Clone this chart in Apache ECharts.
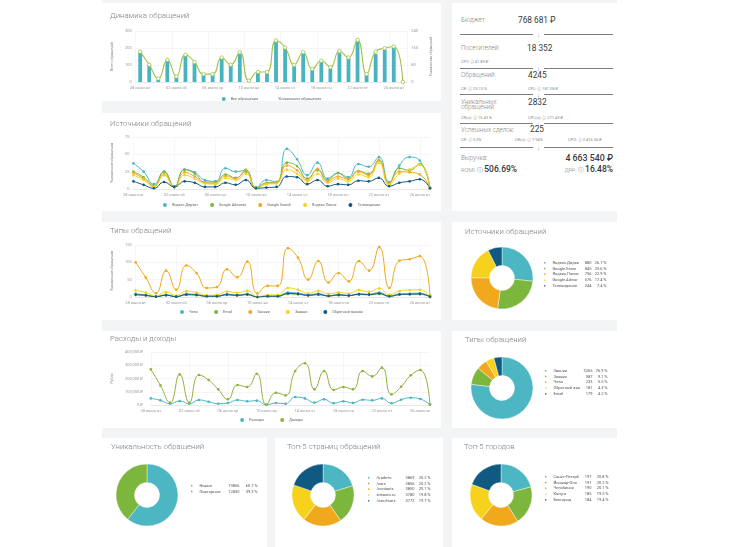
<!DOCTYPE html>
<html><head><meta charset="utf-8">
<script src="https://cdn.jsdelivr.net/npm/echarts@6/dist/echarts.min.js"></script>
<style>
html,body{margin:0;padding:0;background:#fff;}
body{width:730px;height:547px;position:relative;overflow:hidden;font-family:Roboto,"Noto Sans",sans-serif;}
#bg{position:absolute;left:102px;top:0;width:515px;height:547px;background:#f2f4f6;}
.panel{position:absolute;background:#fff;}
.t{position:absolute;white-space:nowrap;line-height:1;transform:translateY(-50%);}
.lab{color:#858585;font-size:6.3px;font-weight:300;}
.val{color:#3a3a3a;font-size:8.3px;}
.sm{color:#8a8a8a;font-size:4px;}
.div{position:absolute;height:1px;background:#7d7d7d;}
.arr{position:absolute;color:#8cb6c4;font-size:7px;line-height:1;transform:translate(-50%,-50%);}
</style></head><body>
<div id="bg"></div>
<div class="panel" id="p1" style="left:102px;top:3px;width:339px;height:98px"></div>
<div class="panel" id="kpi" style="left:452px;top:3px;width:165px;height:208px"></div>
<div class="panel" id="p2" style="left:102px;top:113px;width:339px;height:98px"></div>
<div class="panel" id="p3" style="left:102px;top:222px;width:339px;height:98px"></div>
<div class="panel" id="q1" style="left:452px;top:222px;width:165px;height:98px"></div>
<div class="panel" id="p4" style="left:102px;top:331px;width:339px;height:97px"></div>
<div class="panel" id="q2" style="left:452px;top:331px;width:165px;height:97px"></div>
<div class="panel" id="b1" style="left:102px;top:438px;width:165px;height:109px"></div>
<div class="panel" id="b2" style="left:275px;top:438px;width:168px;height:109px"></div>
<div class="panel" id="b3" style="left:452px;top:438px;width:165px;height:109px"></div>
<script>
// ---------- DATA ----------
const dates = ['28 июня вт','29 июня ср','30 июня чт','01 июля пт','02 июля сб','03 июля вс','04 июля пн','05 июля вт','06 июля ср','07 июля чт','08 июля пт','09 июля сб','10 июля вс','11 июля пн','12 июля вт','13 июля ср','14 июля чт','15 июля пт','16 июля сб','17 июля вс','18 июля пн','19 июля вт','20 июля ср','21 июля чт','22 июля пт','23 июля сб','24 июля вс','25 июля пн','26 июля вт','27 июля ср'];

const allCalls    = [170,101,14,125,27,160,111,43,47,140,101,164,8,53,49,242,199,92,170,72,117,78,170,140,238,43,164,189,203,0];
const uniqueCalls = [143,81,16,104,26,128,94,37,37,115,81,140,6,47,47,195,162,81,140,61,100,70,146,115,198,37,143,159,167,0];

const srcDirect  = [37,25,7,25,4,28,24,13,11,30,25,27,2,13,10,58,43,20,38,15,23,17,36,32,46,10,34,46,41,1];
const srcAdwords = [25,17,5,25,3,28,22,10,10,21,16,25,2,9,10,38,33,15,27,13,23,15,26,22,42,8,30,27,36,2];
const srcSearch  = [23,15,4,22,3,24,18,9,8,19,15,28,1,8,9,34,27,13,29,11,18,14,25,20,41,8,25,24,21,1];
const srcPoisk   = [20,13,3,20,2,20,15,8,7,16,13,22,1,7,8,28,22,11,22,9,15,11,21,17,38,6,22,28,35,1];
const srcTV      = [11,6,1,10,3,11,9,3,3,9,6,13,1,2,3,18,17,7,13,4,7,6,12,11,16,4,9,11,14,1];

const typeChats    = [9,6,1,7,1,9,7,3,3,8,6,9,0,3,3,13,11,6,10,4,7,5,9,8,13,3,9,10,11,0];
const typeEmail    = [6,4,1,5,1,6,5,2,2,6,4,7,0,2,2,9,8,4,7,3,5,4,7,6,9,2,7,8,8,0];
const typeCalls    = [100,56,11,76,21,91,69,26,29,80,57,102,10,32,32,141,113,50,104,42,69,45,104,76,144,26,105,109,118,4];
const typeRequests = [19,13,3,15,4,17,13,5,6,16,12,18,1,6,6,26,21,10,18,9,13,10,20,15,25,6,17,20,21,1];
const typeCallback = [7,5,1,5,1,7,6,2,2,7,5,7,0,2,2,10,9,5,7,3,6,4,8,7,10,2,7,8,9,1];

const expenses = [50000,35000,10000,30000,10000,38000,25000,10000,15000,38000,28000,33000,2000,15000,10000,60000,50000,18000,43000,13000,28000,15000,40000,35000,50000,13000,40000,55000,45000,3000];
const income   = [269000,148000,18000,231000,18000,226000,189000,118000,43000,151000,136000,236000,3000,93000,73000,257000,315000,118000,257000,113000,136000,118000,257000,216000,282000,80000,138000,224000,264000,5000];

const srcPieNames  = ['Яндекс.Директ','Google.Search','Яндекс.Поиск','Google.Adwords','Телевидение'];
const srcPieValues = [880,845,756,576,244];
const typePieNames  = ['Звонки','Заявки','Чаты','Обратный звонок','Email'];
const typePieValues = [3265,387,233,181,179];
const uniqNames  = ['Новые','Повторные'];
const uniqValues = [19856,12830];
const pageNames  = ['/trade-in','/cars','/contacts','siteauto.ru','/used-cars'];
const pageValues = [3869,3856,3850,3780,3772];
const cityNames  = ['Санкт-Петербург','Йошкар-Ола','Челябинск','Калуга','Белгород'];
const cityValues = [197,191,190,185,184];

const yTicks1L = [0,100,200,300];
const yTicks1R = [0,80,160,240];

// ---------- STYLE ----------
const PAL = ['#4cb7c3','#7db63c','#f0a81c','#f6d21c','#105a82'];
const OLIVE = '#a2c149';
const FONT = 'Roboto, "Noto Sans", sans-serif';
const axisTxt = {color:'#9a9a9a', fontSize:4, fontFamily:FONT};

function title(text, left, top){
  return {text, left, top, padding:0, textStyle:{fontSize:7.8, color:'#808080', fontWeight:300, fontFamily:FONT}};
}
function xAxis(boundary){
  return {type:'category', data:dates, boundaryGap:boundary,
    axisLine:{lineStyle:{color:'#ddd', width:0.6}}, axisTick:{show:false},
    axisLabel:Object.assign({interval:3, margin:4}, axisTxt),
    splitLine:{show:true, interval:3, lineStyle:{color:'#f1f1f1', width:0.6}}};
}
function yAxis(min,max,interval,name,extra){
  return Object.assign({type:'value', min, max, interval, name, nameLocation:'middle', nameGap:13,
    nameTextStyle:{fontSize:3.5, color:'#777', fontFamily:FONT},
    axisLine:{show:false}, axisTick:{show:false},
    axisLabel:Object.assign({margin:4}, axisTxt),
    splitLine:{lineStyle:{color:'#eeeeee', width:0.6}}}, extra||{});
}
function lineLegend(top){
  return {top, left:'center', padding:0, itemWidth:4, itemHeight:4, itemGap:12, icon:'circle',
    textStyle:{fontSize:3.7, color:'#666', fontFamily:FONT}};
}
function lineSeries(name, data, color){
  return {type:'line', name, data, smooth:true, symbol:'circle', symbolSize:2.6,
    lineStyle:{width:1, color}, itemStyle:{color}};
}

// Panel 1
echarts.init(document.getElementById('p1')).setOption({
  animation:false,
  title:title('Динамика обращений',8,9),
  grid:{left:28,right:33,top:28,height:51},
  legend:{top:93, left:'center', padding:0, itemWidth:4, itemHeight:4, itemGap:10, textStyle:{fontSize:3.8,color:'#666',fontFamily:FONT},
    data:[{name:'Все обращения',icon:'circle'},{name:'Уникальные обращения',icon:'emptyCircle'}]},
  xAxis:xAxis(true),
  yAxis:[yAxis(yTicks1L[0],yTicks1L[3],yTicks1L[1],'Всего обращений',{nameGap:12}),
         yAxis(yTicks1R[0],yTicks1R[3],yTicks1R[1],'Уникальных обращений',{position:'right',nameGap:12,splitLine:{show:false}})],
  series:[
    {type:'bar', name:'Все обращения', data:allCalls, barWidth:'42%', itemStyle:{color:'#48b4c0'}},
    {type:'line', name:'Уникальные обращения', data:uniqueCalls, yAxisIndex:1, smooth:true, symbol:'circle', symbolSize:3.5,
      lineStyle:{width:1.1,color:OLIVE}, itemStyle:{color:'#fff', borderColor:OLIVE, borderWidth:0.8}}
  ]
});

// Panel 2
echarts.init(document.getElementById('p2')).setOption({
  animation:false, color:PAL,
  title:title('Источники обращений',8,7),
  grid:{left:28,right:11,top:24,height:52},
  legend:lineLegend(90),
  xAxis:xAxis(false),
  yAxis:yAxis(0,75,25,'Уникальные обращения'),
  series:[lineSeries('Яндекс.Директ',srcDirect,PAL[0]),lineSeries('Google Adwords',srcAdwords,PAL[1]),
    lineSeries('Google Search',srcSearch,PAL[2]),lineSeries('Яндекс.Поиск',srcPoisk,PAL[3]),lineSeries('Телевидение',srcTV,PAL[4])]
});

// Panel 3
echarts.init(document.getElementById('p3')).setOption({
  animation:false, color:PAL,
  title:title('Типы обращений',8,5),
  grid:{left:28,right:11,top:23,height:52},
  legend:Object.assign(lineLegend(88),{itemGap:16}),
  xAxis:xAxis(false),
  yAxis:yAxis(0,150,50,'Уникальные обращения'),
  series:[lineSeries('Чаты',typeChats,PAL[0]),lineSeries('Email',typeEmail,PAL[1]),
    lineSeries('Звонки',typeCalls,PAL[2]),lineSeries('Заявки',typeRequests,PAL[3]),lineSeries('Обратный звонок',typeCallback,PAL[4])]
});

// Panel 4
echarts.init(document.getElementById('p4')).setOption({
  animation:false,
  title:title('Расходы и доходы',8,4),
  grid:{left:41,right:11,top:21,height:53},
  legend:Object.assign(lineLegend(87),{itemGap:16}),
  xAxis:xAxis(false),
  yAxis:yAxis(0,400000,100000,'Рубли',{nameGap:27,axisLabel:Object.assign({margin:8,formatter:'{value} ₽'},axisTxt)}),
  series:[lineSeries('Расходы',expenses,'#4cb7c3'),lineSeries('Доходы',income,'#8fb23c')]
});

// Pies
function pieChart(id, ttl, names, values, c, tl, tt, legendLeft, legendTop, widths){
  const total = values.reduce((a,b)=>a+b,0);
  const map = {};
  names.forEach((n,i)=>map[n]=values[i]);
  echarts.init(document.getElementById(id)).setOption({
    animation:false, color:PAL,
    title:title(ttl, tl, tt),
    legend:{orient:'vertical', left:legendLeft, top:legendTop, padding:0, icon:'rect', itemWidth:3.4, itemHeight:3.4, itemGap:0.4,
      textStyle:{fontSize:4, lineHeight:4.2, color:'#555', fontFamily:FONT, padding:[0,0,0,1],
        rich:{n:{width:widths[0],fontSize:4,lineHeight:4.2},v:{width:widths[1],align:'right',fontSize:4,lineHeight:4.2},p:{width:widths[2],align:'right',fontSize:4,lineHeight:4.2}}},
      formatter:function(n){return '{n|'+n.slice(0,12)+'}{v|'+map[n]+'}{p|'+(map[n]/total*100).toFixed(1)+' %}';}},
    series:[{type:'pie', center:c, radius:[12.5,31], startAngle:90, clockwise:true, label:{show:false}, labelLine:{show:false},
      itemStyle:{borderColor:'#fff', borderWidth:0.4},
      data:names.map((n,i)=>({name:n, value:values[i]}))}]
  });
}
pieChart('q1','Источники обращений',srcPieNames,srcPieValues,[50,56],13,6,90,38,[29,10,15]);
pieChart('q2','Типы обращений',typePieNames,typePieValues,[50,57],13,5,91,37,[29,10,15]);
pieChart('b1','Уникальность обращений',uniqNames,uniqValues,[45,57],9,5,87,45,[28,12,18]);
pieChart('b2','Топ-5 страниц обращений',pageNames,pageValues,[48,57],12,5,91,37,[28,10,16]);
pieChart('b3','Топ-5 городов',cityNames,cityValues,[49,57],12,5,91,36,[28,10,17]);

// KPI panel
const kpi = document.getElementById('kpi');
const KT = 3;
function t(txt, x, y, cls, extra){
  const s = document.createElement('span');
  s.className = 't ' + cls; s.textContent = txt;
  s.style.left = (x-452)+'px'; s.style.top = (y-KT)+'px';
  if (extra) Object.assign(s.style, extra);
  kpi.appendChild(s); return s;
}
function tr(txt, xr, y, cls, extra){
  const s = t(txt, 0, y, cls, extra); s.style.left=''; s.style.right=(617-xr)+'px'; return s;
}
function divider(y){
  const a = document.createElement('div'); a.className='div';
  a.style.left=(460-452)+'px'; a.style.width='73px'; a.style.top=(y-KT)+'px'; kpi.appendChild(a);
  const b = document.createElement('div'); b.className='div';
  b.style.left=(544-452)+'px'; b.style.width='69px'; b.style.top=(y-KT)+'px'; kpi.appendChild(b);
  const c = document.createElement('span'); c.className='arr'; c.textContent='↓';
  c.style.left=(538.5-452)+'px'; c.style.top=(y-KT+0.5)+'px'; kpi.appendChild(c);
}
t('Бюджет:',461,20,'lab'); t('768 681 ₽',518,20,'val');
divider(34);
t('Посетителей:',461,48,'lab'); t('18 352',527,48,'val');
t('CPV  ⓘ  41.89 ₽',461,62,'sm');
divider(68);
t('Обращений:',461,75,'lab'); t('4245',528,75,'val');
t('CR:  ⓘ  23.13 %',461,89,'sm'); t('CPL:  ⓘ  181.08 ₽',528,89,'sm');
divider(94);
t('Уникальных',461,101.5,'lab'); t('обращений:',461,107,'lab'); t('2832',528,102,'val');
t('CR(u):  ⓘ  15.43 %',461,118,'sm'); t('CPL(u):  ⓘ  271.43 ₽',528,118,'sm');
divider(123);
t('Успешных сделок:',461,129.5,'lab'); t('225',530,129,'val');
t('CR:  ⓘ  5.3%',461,140,'sm'); t('CR(u):  ⓘ  7.94%',515,140,'sm'); t('CPO:  ⓘ  3 416.36 ₽',568,140,'sm');
divider(147);
t('Выручка:',461,158,'lab'); tr('4 663 540 ₽',613,158,'val',{fontWeight:'500',fontSize:'8.8px'});
const r1 = t('ROMI:  ⓘ ',461,168.5,'lab',{fontSize:'5.5px'});
const rv = document.createElement('span'); rv.textContent='506.69%'; rv.style.fontSize='8.5px'; rv.style.color='#333'; rv.style.fontWeight='500'; r1.appendChild(rv);
const r2 = tr('ДРР:  ⓘ ',613,168.5,'lab',{fontSize:'5.5px'});
const dv = document.createElement('span'); dv.textContent='16.48%'; dv.style.fontSize='8.5px'; dv.style.color='#333'; dv.style.fontWeight='500'; r2.appendChild(dv);
</script>
</body></html>
